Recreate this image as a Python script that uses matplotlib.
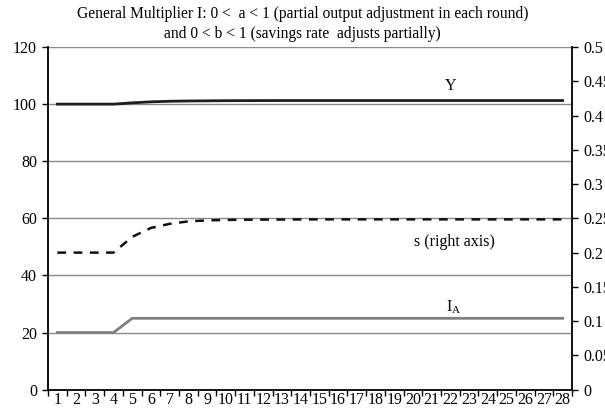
import matplotlib
matplotlib.use("Agg")
import matplotlib.pyplot as plt
from matplotlib.ticker import FixedLocator

plt.rcParams['font.family'] = ['Liberation Serif', 'DejaVu Serif']

periods = list(range(1, 29))
Y = [100, 100, 100, 100, 100.45, 100.8, 101.0, 101.1, 101.15, 101.2, 101.22, 101.24,
     101.25, 101.25, 101.25, 101.25, 101.25, 101.25, 101.25, 101.25, 101.25, 101.25,
     101.25, 101.25, 101.25, 101.25, 101.25, 101.25]
I_A = [20, 20, 20, 20] + [25] * 24
s = [0.2, 0.2, 0.2, 0.2, 0.223, 0.236, 0.242, 0.2456, 0.247, 0.2477, 0.248, 0.2482,
     0.2483, 0.2484, 0.2485, 0.2485, 0.2485, 0.2485, 0.2485, 0.2485, 0.2485, 0.2485,
     0.2485, 0.2485, 0.2485, 0.2485, 0.2485, 0.2485]
left_ticks = [0, 20, 40, 60, 80, 100, 120]
right_ticks = [0, 0.05, 0.1, 0.15, 0.2, 0.25, 0.3, 0.35, 0.4, 0.45, 0.5]
right_labels = ['0', '0.05', '0.1', '0.15', '0.2', '0.25', '0.3', '0.35', '0.4', '0.45', '0.5']
title = "General Multiplier I: 0 <  a < 1 (partial output adjustment in each round)\nand 0 < b < 1 (savings rate  adjusts partially)"

fig = plt.figure(figsize=(6.05, 4.15), dpi=100)
ax = fig.add_axes([48/605, 1 - 389.7/415, (572-48)/605, (389.7-47)/415])
ax2 = ax.twinx()

grid_c = '#8a8a8a'
for v in left_ticks[1:]:
    ax.axhline(v, color=grid_c, lw=1.0, zorder=1)

ax.plot(periods, Y, color='#1e1e1e', lw=2.0, zorder=3)
ax.plot(periods, I_A, color='#7f7f7f', lw=2.0, zorder=3)
ax2.plot(periods, s, color='#111111', lw=1.8, ls=(0, (3.5, 3.0)), zorder=3)

ax.set_xlim(0.5, 28.5)
ax.set_ylim(0, 120)
ax2.set_ylim(0, 0.5)

fs = 11.5
ax.xaxis.set_major_locator(FixedLocator([p + 0.5 for p in range(0, 29)]))
ax.xaxis.set_minor_locator(FixedLocator(periods))
ax.set_xticklabels([])
ax.set_xticklabels([str(p) for p in periods], minor=True)
ax.tick_params(axis='x', which='major', length=4, width=1, direction='out')
ax.tick_params(axis='x', which='minor', length=0, pad=2, labelsize=fs)

ax.set_yticks(left_ticks)
ax.set_yticklabels([str(t) for t in left_ticks])
ax.tick_params(axis='y', length=4, width=1, direction='out', labelsize=fs, pad=4)
ax2.set_yticks(right_ticks)
ax2.set_yticklabels(right_labels)
ax2.tick_params(axis='y', length=4, width=1, direction='out', labelsize=fs, pad=4)

for a in (ax, ax2):
    a.spines['top'].set_visible(False)
    for sp in ('left', 'right', 'bottom'):
        a.spines[sp].set_linewidth(1.2)
        a.spines[sp].set_color('#111111')

ax.text(22.0, 106.5, 'Y', ha='center', va='center', fontsize=fs)
ax2.text(22.2, 0.216, 's (right axis)', ha='center', va='center', fontsize=fs)
ax.text(22.2, 29.0, r'I$_\mathregular{A}$', ha='center', va='center', fontsize=fs)

fig.text(0.5, 1 - 24/415, title, ha='center', va='center', fontsize=11.2, linespacing=1.25)

fig.savefig('out.png', dpi=100)
